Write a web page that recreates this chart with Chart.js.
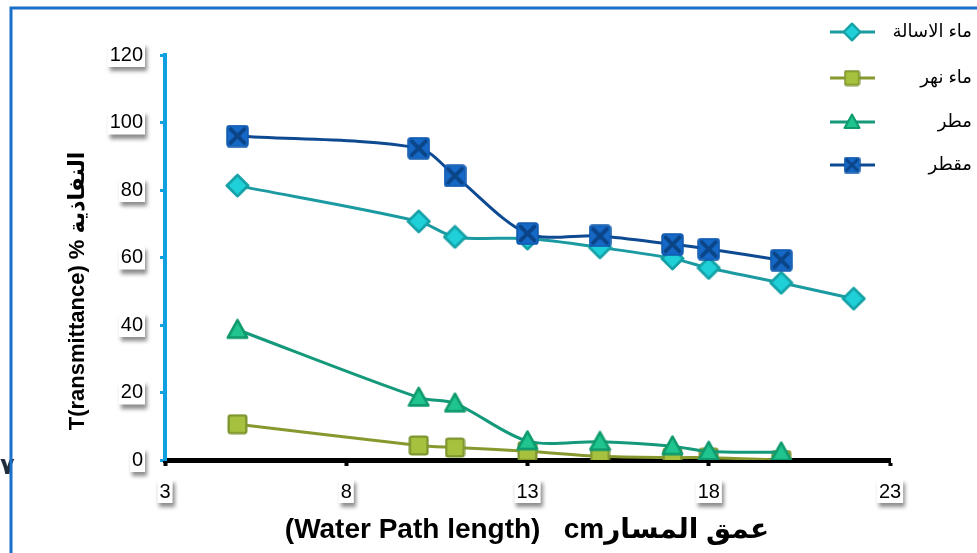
<!DOCTYPE html>
<html>
<head>
<meta charset="utf-8">
<script src="https://cdn.jsdelivr.net/npm/chart.js@4.4.1/dist/chart.umd.min.js"></script>
<style>
  html, body { margin: 0; padding: 0; background: #fff; }
  #wrap { width: 977px; height: 553px; position: relative; }
</style>
</head>
<body>
<div id="wrap"><canvas id="myChart" width="977" height="553"></canvas></div>
<script>
// Data
const pathLength = [5, 10, 11, 13, 15, 17, 18, 20, 22];
const tapWater = [81.3, 70.7, 66.1, 65.6, 63.0, 59.7, 56.9, 52.5, 47.8];   // ماء الاسالة
const riverWater = [10.6, 4.3, 3.7, 2.6, 1.1, 0.7, 0.7, 0.0];             // ماء نهر
const rainWater = [38.6, 18.5, 16.8, 5.6, 5.4, 4.1, 2.5, 2.3];             // مطر
const distilled = [96.0, 92.4, 84.2, 67.1, 66.4, 63.9, 62.5, 59.2];        // مقطر
const seriesNames = ['ماء الاسالة', 'ماء نهر', 'مطر', 'مقطر'];
const xTicks = [3, 8, 13, 18, 23];
const yTicks = [0, 20, 40, 60, 80, 100, 120];

const FONT = '"Liberation Sans", "DejaVu Sans", sans-serif';

// marker drawings (Excel style)
function makeMarker(kind, size) {
    const c = document.createElement('canvas');
    c.width = size; c.height = size;
    const g = c.getContext('2d');
    const m = size / 2;
    g.lineWidth = Math.max(1.5, size / 9);
    g.lineJoin = 'round';
    if (kind === 'diamond') {
        const r = m - g.lineWidth / 2 - 0.5;
        g.beginPath();
        g.moveTo(m, m - r); g.lineTo(m + r, m); g.lineTo(m, m + r); g.lineTo(m - r, m); g.closePath();
        g.fillStyle = '#1fd0d8'; g.fill();
        g.strokeStyle = '#14a1a6'; g.stroke();
    } else if (kind === 'square') {
        const p = g.lineWidth / 2 + 0.5;
        g.beginPath();
        g.roundRect(p, p, size - 2 * p, size - 2 * p, size / 10);
        g.fillStyle = '#a6c13e'; g.fill();
        g.strokeStyle = '#7e9630'; g.stroke();
    } else if (kind === 'triangle') {
        const p = g.lineWidth / 2 + 0.5;
        g.beginPath();
        g.moveTo(m, p); g.lineTo(size - p, size - p - size * 0.08); g.lineTo(p, size - p - size * 0.08); g.closePath();
        g.fillStyle = '#1fc48e'; g.fill();
        g.strokeStyle = '#0f9a6e'; g.stroke();
    } else {
        const p = 1;
        g.beginPath();
        g.roundRect(p, p, size - 2 * p, size - 2 * p, size / 8);
        g.fillStyle = '#1668c6'; g.fill();
        g.strokeStyle = '#0f58ad'; g.lineWidth = 1.5; g.stroke();
        const q = size * 0.2;
        g.beginPath();
        g.moveTo(q, q); g.lineTo(size - q, size - q);
        g.moveTo(size - q, q); g.lineTo(q, size - q);
        g.strokeStyle = '#0b4587'; g.lineWidth = size / 6; g.lineCap = 'round'; g.stroke();
    }
    return c;
}

const lineColors = ['#1b9ba1', '#87982f', '#14997a', '#0e4a92'];
const kinds = ['diamond', 'square', 'triangle', 'xsquare'];
const pointSizes = [25, 21, 23, 23];
const legendSizes = [20, 17, 18, 17];

function toPoints(values) {
    return values.map((v, i) => ({ x: pathLength[i], y: v }));
}

const allValues = [tapWater, riverWater, rainWater, distilled];
const drawOrder = [2, 3, 1, 0];

// white boxes with shadow behind tick labels, frame, stray glyph
const backdropPlugin = {
    id: 'backdrop',
    beforeDraw(chart) {
        const c = chart.ctx;
        c.save();
        c.fillStyle = '#fff';
        c.fillRect(0, 0, chart.width, chart.height);
        c.font = '20px ' + FONT;
        c.shadowColor = 'rgba(0,0,0,0.45)';
        c.shadowBlur = 4;
        c.shadowOffsetX = 2;
        c.shadowOffsetY = 4;
        const ys = chart.scales.y, xs = chart.scales.x;
        ys.ticks.forEach(t => {
            const w = c.measureText(String(t.value)).width + 4;
            const py = ys.getPixelForValue(t.value);
            c.fillRect(145 - w, py - 12, w, 24);
        });
        xs.ticks.forEach(t => {
            const w = c.measureText(String(t.value)).width + 4;
            const px = xs.getPixelForValue(t.value);
            c.fillRect(px - w / 2, 479, w, 24);
        });
        c.restore();

        c.save();
        c.fillStyle = '#1f2d3d';
        c.font = 'bold 24px "DejaVu Sans"';
        c.textBaseline = 'middle';
        c.fillText('٧', 0, 468);
        c.strokeStyle = '#1a70c8';
        c.lineWidth = 3;
        c.beginPath();
        c.moveTo(11, 553); c.lineTo(11, 8); c.lineTo(977, 8);
        c.stroke();
        c.restore();
    }
};

// axis titles and the legend on the right
const titlesPlugin = {
    id: 'titles',
    afterDraw(chart) {
        const c = chart.ctx;
        c.save();
        c.fillStyle = '#000';
        c.textAlign = 'center';
        c.textBaseline = 'middle';
        c.font = 'bold 22px ' + FONT;
        c.translate(78, 291);
        c.rotate(-Math.PI / 2);
        c.fillText('T(ransmittance) % النفاذية', 0, 0);
        c.restore();

        c.save();
        c.fillStyle = '#000';
        c.textAlign = 'center';
        c.textBaseline = 'middle';
        c.font = 'bold 28px ' + FONT;
        c.fillText('(Water Path length)   cmعمق المسار', 527, 530);
        c.restore();

        const legendY = [32, 78, 122, 165];
        c.save();
        seriesNames.forEach((name, i) => {
            const y = legendY[i];
            c.strokeStyle = lineColors[i];
            c.lineWidth = 3;
            c.beginPath();
            c.moveTo(830, y); c.lineTo(875, y);
            c.stroke();
            const img = legendMarkers[i];
            c.drawImage(img, 852 - img.width / 2, y - img.height / 2);
            c.fillStyle = '#000';
            c.font = '18px ' + FONT;
            c.textAlign = 'right';
            c.textBaseline = 'middle';
            c.direction = 'rtl';
            c.fillText(name, 972, y);
        });
        c.restore();
    }
};

const pointMarkers = kinds.map((k, i) => makeMarker(k, pointSizes[i]));
const legendMarkers = kinds.map((k, i) => makeMarker(k, legendSizes[i]));

const ctx = document.getElementById('myChart').getContext('2d');
const myChart = new Chart(ctx, {
    type: 'line',
    data: {
        datasets: seriesNames.map((name, i) => ({
            label: name,
            data: toPoints(allValues[i]),
            borderColor: lineColors[i],
            borderWidth: 3,
            tension: 0.3,
            pointStyle: pointMarkers[i],
            order: drawOrder[i],
            fill: false
        }))
    },
    options: {
        responsive: false,
        animation: false,
        layout: { padding: { left: 0, top: 55, right: 87, bottom: 0 } },
        plugins: {
            legend: { display: false },
            tooltip: { enabled: false }
        },
        scales: {
            x: {
                type: 'linear',
                min: 3, max: 23,
                afterBuildTicks: s => { s.ticks = xTicks.map(v => ({ value: v })); },
                afterFit: s => { s.height = 93; },
                grid: { drawOnChartArea: false, drawTicks: true, tickLength: 6, tickWidth: 4, tickColor: '#000' },
                border: { color: '#000', width: 5 },
                ticks: { color: '#000', font: { size: 20, family: FONT }, padding: 14, maxRotation: 0 }
            },
            y: {
                min: 0, max: 120,
                afterBuildTicks: s => { s.ticks = yTicks.map(v => ({ value: v })); },
                afterFit: s => { s.width = 165; },
                grid: { drawOnChartArea: false, drawTicks: true, tickLength: 5, tickWidth: 3, tickColor: '#0ea0e0' },
                border: { color: '#0ea0e0', width: 4 },
                ticks: { color: '#000', font: { size: 20, family: FONT }, padding: 17 }
            }
        }
    },
    plugins: [backdropPlugin, titlesPlugin]
});
</script>
</body>
</html>
